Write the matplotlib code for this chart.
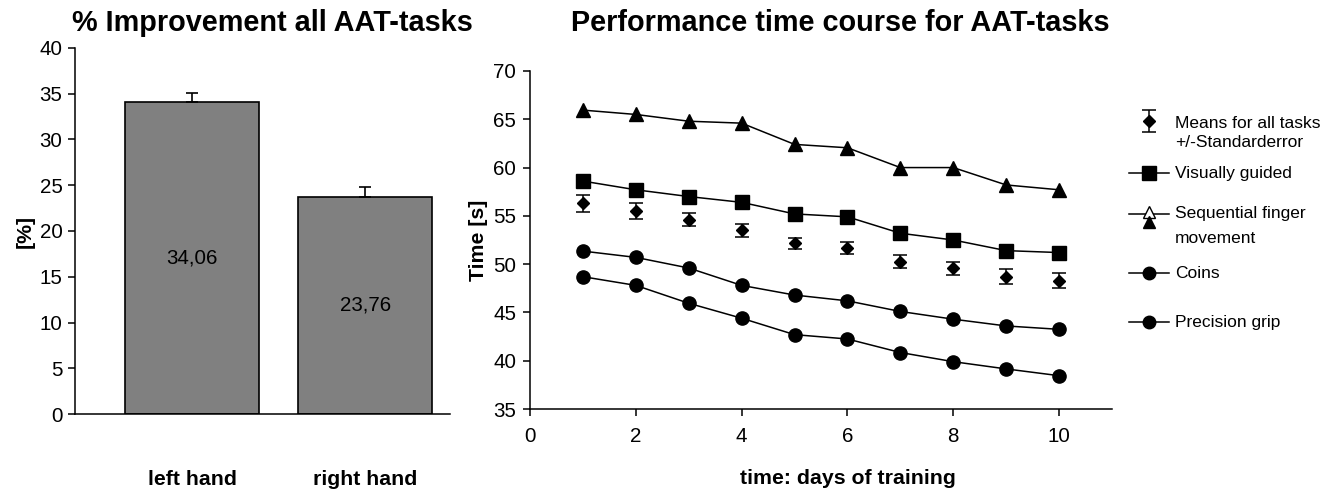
import matplotlib
matplotlib.use("Agg")
import matplotlib.pyplot as plt
import numpy as np

plt.rcParams['font.family'] = ['Liberation Sans', 'DejaVu Sans']

# ---- data: bar chart ----
hands = ["left hand", "right hand"]
improvement = [34.06, 23.76]
improvement_err = [1.05, 1.05]
improvement_labels = ["34,06", "23,76"]

# ---- data: time course ----
days = [1, 2, 3, 4, 5, 6, 7, 8, 9, 10]
means_all = [56.3, 55.5, 54.6, 53.5, 52.15, 51.7, 50.25, 49.55, 48.7, 48.3]
means_err = [0.85, 0.85, 0.7, 0.65, 0.6, 0.6, 0.7, 0.7, 0.8, 0.8]
visually_guided = [58.6, 57.7, 57.0, 56.4, 55.2, 54.9, 53.2, 52.5, 51.4, 51.2]
sequential_finger = [65.95, 65.5, 64.8, 64.6, 62.4, 62.05, 60.0, 60.0, 58.2, 57.7]
coins = [51.35, 50.7, 49.6, 47.8, 46.8, 46.2, 45.1, 44.3, 43.6, 43.25]
precision_grip = [48.7, 47.8, 45.95, 44.4, 42.7, 42.25, 40.85, 39.9, 39.15, 38.45]

W, H = 1335, 490
fig = plt.figure(figsize=(W / 100, H / 100), dpi=100)

def fx(px):
    return px / W

def fy(py):
    return 1 - py / H

TICK_FS = 14.8
BOLD_FS = 15.3
TITLE_FS = 20.8
LW = 1.1

# ---------- left: bar chart ----------
L0, L1, LB, LT = 75, 450, 414, 48
ax1 = fig.add_axes([fx(L0), fy(LB), fx(L1) - fx(L0), fy(LT) - fy(LB)])
xpos = np.arange(len(hands))
ax1.bar(xpos, improvement, width=0.775, color="#808080", edgecolor="black",
        linewidth=1.2, zorder=2)
ax1.errorbar(xpos, improvement, yerr=[np.zeros(len(hands)), improvement_err],
             fmt="none", ecolor="black", elinewidth=1.2, capsize=4.5,
             capthick=1.2, zorder=3)
for x, v, lab in zip(xpos, improvement, improvement_labels):
    ax1.text(x, v / 2, lab, ha="center", va="center", fontsize=TICK_FS)
ax1.set_xlim(-0.676, 1.49)
ax1.set_ylim(0, 40)
ax1.set_yticks(range(0, 41, 5))
ax1.set_xticks(xpos)
ax1.set_xticklabels(hands, fontsize=BOLD_FS, fontweight="bold")
ax1.tick_params(axis="x", length=0, pad=40)
ax1.tick_params(axis="y", direction="out", length=5, width=LW,
                labelsize=TICK_FS, pad=4)
for s in ["top", "right"]:
    ax1.spines[s].set_visible(False)
for s in ["left", "bottom"]:
    ax1.spines[s].set_linewidth(LW)
ax1.set_ylabel("[%]", fontsize=BOLD_FS, fontweight="bold")
ax1.yaxis.set_label_coords((25 - L0) / (L1 - L0), 0.5)
ax1.yaxis.label.set_va("center")

fig.text(fx(272), fy(23), "% Improvement all AAT-tasks", ha="center",
         va="center", fontsize=TITLE_FS, fontweight="bold")

# ---------- right: time course ----------
R0, R1, RB, RT = 530, 1112, 409, 71
ax2 = fig.add_axes([fx(R0), fy(RB), fx(R1) - fx(R0), fy(RT) - fy(RB)])
ax2.plot(days, sequential_finger, color="black", lw=LW, marker="^",
         ms=9.5, mfc="black", mec="black", zorder=3)
ax2.plot(days, visually_guided, color="black", lw=LW, marker="s",
         ms=10, mfc="black", mec="black", zorder=3)
ax2.errorbar(days, means_all, yerr=means_err, fmt="D", ms=6.5, color="black",
             ecolor="black", elinewidth=1.1, capsize=5, capthick=1.1, zorder=3)
ax2.plot(days, coins, color="black", lw=LW, marker="o", ms=9.5,
         mfc="black", mec="black", zorder=3)
ax2.plot(days, precision_grip, color="black", lw=LW, marker="o", ms=9.5,
         mfc="black", mec="black", zorder=3)
ax2.set_xlim(0, 11)
ax2.set_ylim(35, 70)
ax2.set_xticks(range(0, 11, 2))
ax2.set_yticks(range(35, 71, 5))
ax2.tick_params(direction="out", length=5, width=LW, labelsize=TICK_FS, pad=5)
ax2.tick_params(axis="x", pad=8)
for s in ["top", "right"]:
    ax2.spines[s].set_visible(False)
for s in ["left", "bottom"]:
    ax2.spines[s].set_linewidth(LW)
ax2.set_ylabel("Time [s]", fontsize=BOLD_FS, fontweight="bold")
ax2.yaxis.set_label_coords((478 - R0) / (R1 - R0), 0.5)
ax2.yaxis.label.set_va("center")
ax2.set_xlabel("time: days of training", fontsize=BOLD_FS, fontweight="bold")
ax2.xaxis.set_label_coords((848 - R0) / (R1 - R0), (RB - 478) / (RB - RT))
ax2.xaxis.label.set_va("center")

fig.text(fx(840), fy(23), "Performance time course for AAT-tasks",
         ha="center", va="center", fontsize=TITLE_FS, fontweight="bold")

# ---------- legend (manual) ----------
lax = fig.add_axes([0, 0, 1, 1], facecolor="none")
lax.set_xlim(0, W)
lax.set_ylim(H, 0)
lax.axis("off")
LEG_FS = 12.5
tx = 1175
hx0, hx1, hxc = 1129, 1169, 1149

# Means with errorbar
lax.errorbar([hxc], [121], yerr=[[11], [11]], fmt="D", ms=6.5, color="black",
             elinewidth=1.1, capsize=5, capthick=1.1)
lax.text(tx, 123, "Means for all tasks", fontsize=LEG_FS, va="center")
lax.text(tx, 142, "+/-Standarderror", fontsize=LEG_FS, va="center")

# Visually guided
lax.plot([hx0, hx1], [173, 173], color="black", lw=LW)
lax.plot([hxc], [173], "s", ms=10, color="black")
lax.text(tx, 173, "Visually guided", fontsize=LEG_FS, va="center")

# Sequential finger movement
lax.plot([hx0, hx1], [214, 214], color="black", lw=LW)
lax.plot([hxc], [212], "^", ms=8, mfc="white", mec="black", mew=1.0)
lax.plot([hxc], [222], "^", ms=8, color="black")
lax.text(tx, 213, "Sequential finger", fontsize=LEG_FS, va="center")
lax.text(tx, 238, "movement", fontsize=LEG_FS, va="center")

# Coins
lax.plot([hx0, hx1], [273, 273], color="black", lw=LW)
lax.plot([hxc], [273], "o", ms=9, color="black")
lax.text(tx, 273, "Coins", fontsize=LEG_FS, va="center")

# Precision grip
lax.plot([hx0, hx1], [322, 322], color="black", lw=LW)
lax.plot([hxc], [322], "o", ms=9, color="black")
lax.text(tx, 322, "Precision grip", fontsize=LEG_FS, va="center")

fig.savefig("out.png", dpi=100)
